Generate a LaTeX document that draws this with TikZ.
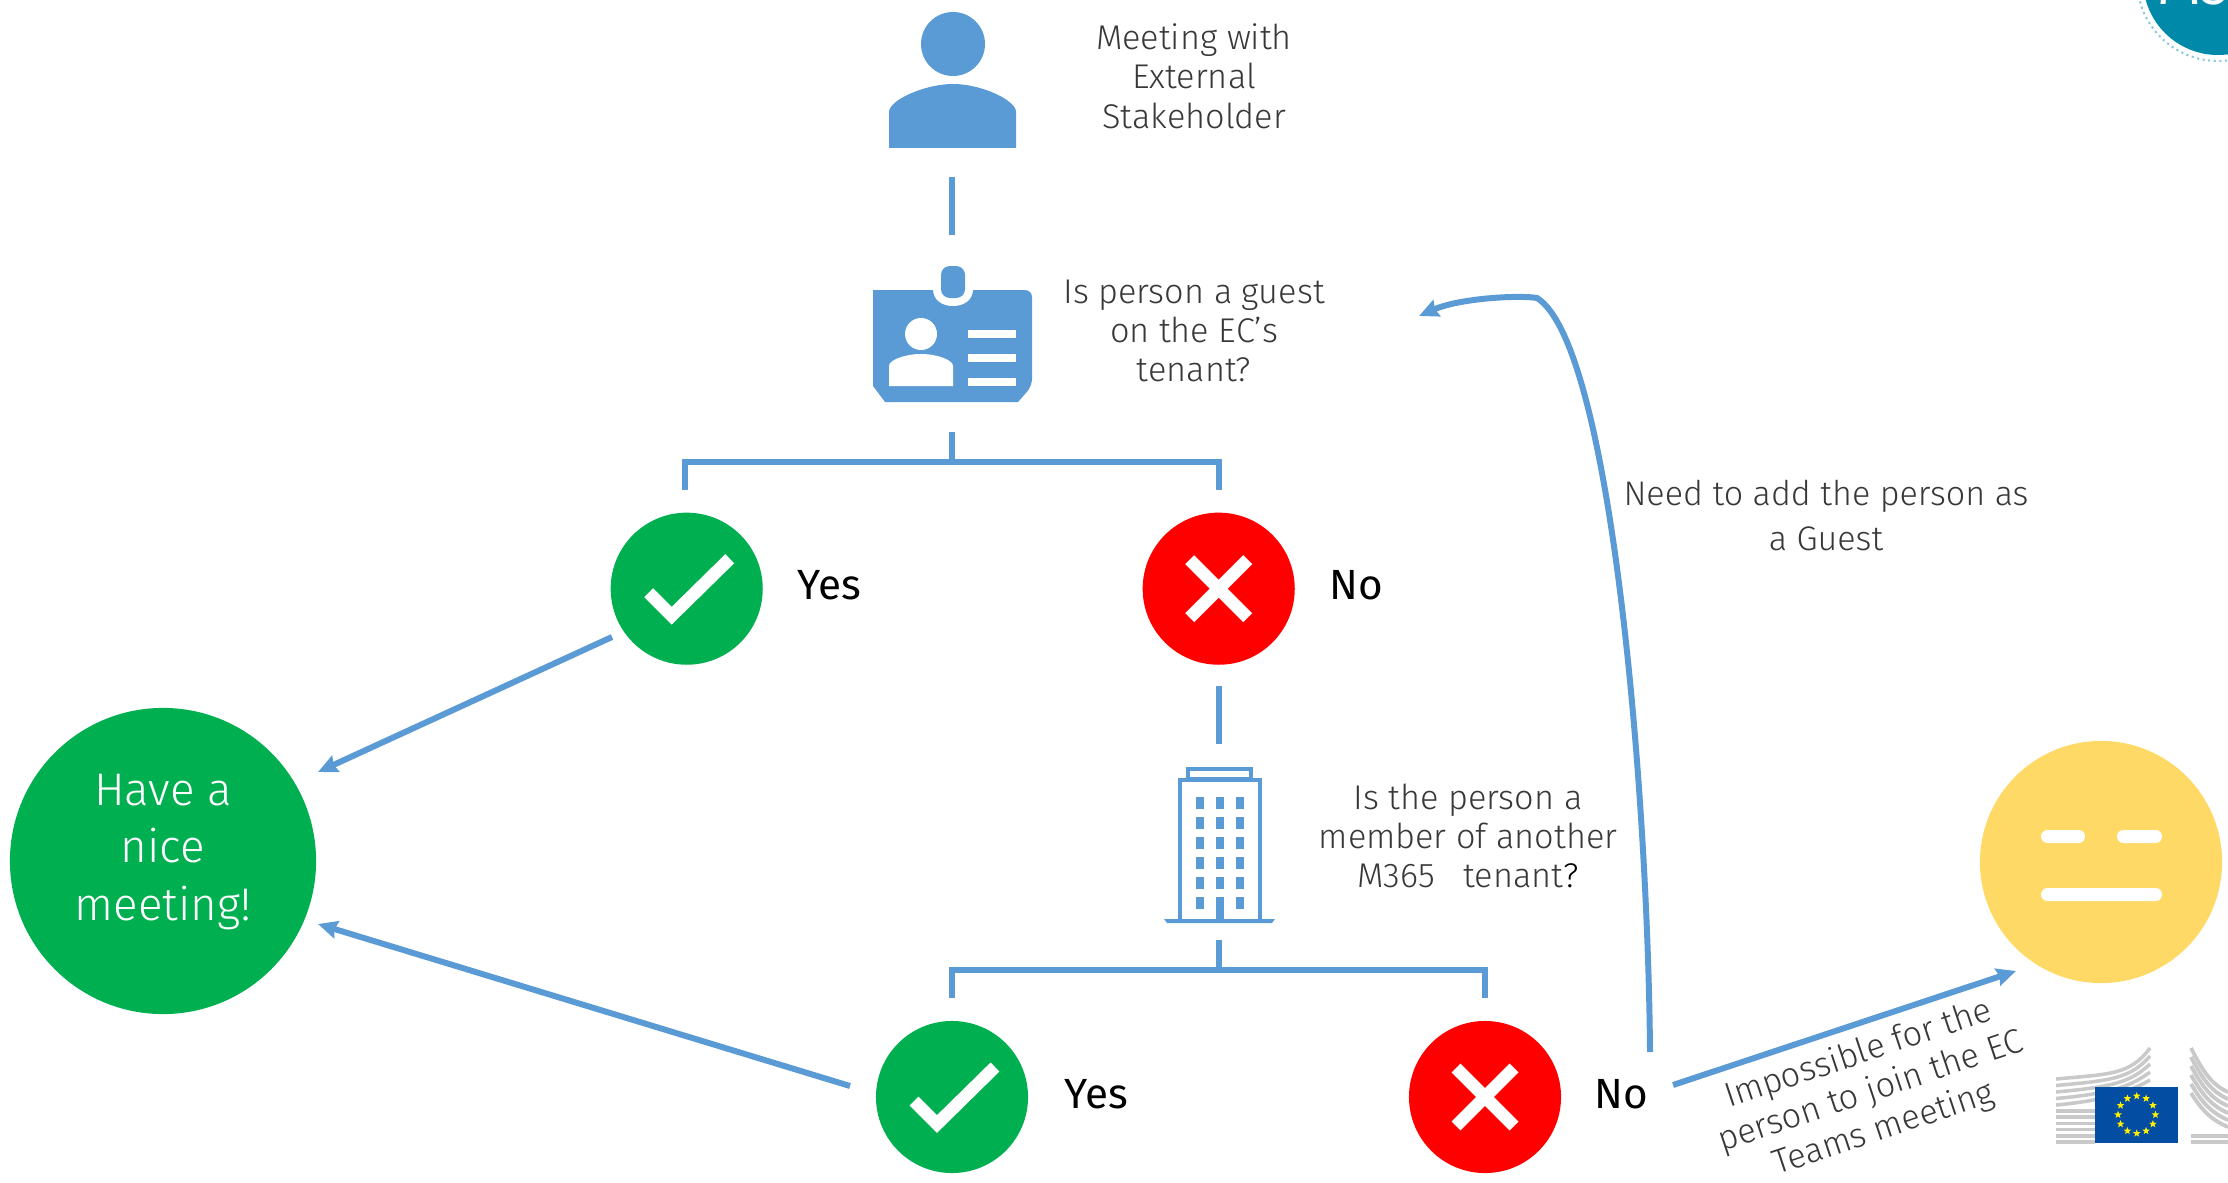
\documentclass[tikz,border=0pt]{standalone}
\usepackage{fontspec}
\usepackage{xcolor}
\usetikzlibrary{shapes.geometric,arrows.meta}
\setmainfont{Fira Sans}
\newfontfamily\thinfont{Fira Sans Light}
\definecolor{iconblue}{HTML}{5B9BD5}
\definecolor{textgrey}{HTML}{383838}
\definecolor{okgreen}{HTML}{00B050}
\definecolor{nored}{HTML}{FF0000}
\definecolor{faceyellow}{HTML}{FFD966}
\definecolor{tealblue}{HTML}{0089A8}
\definecolor{flagblue}{HTML}{034EA2}
\definecolor{logogrey}{HTML}{C9C9C9}
\tikzset{
  caption/.style={text=textgrey,align=center,font=\thinfont\fontsize{9.75}{11.2}\selectfont},
  answer/.style={text=black,font=\fontsize{12}{14}\selectfont},
  yesnode/.style={circle,fill=okgreen,minimum size=1.52cm,inner sep=0pt},
  nonode/.style={circle,fill=nored,minimum size=1.52cm,inner sep=0pt},
  link/.style={draw=iconblue,line width=1.7pt},
  flow/.style={draw=iconblue,line width=1.7pt,->},
  tickline/.style={draw=white,line width=3.6pt}
}
\begin{document}
\begin{tikzpicture}[x=0.01cm,y=-0.01cm,>={Stealth[length=5.5pt,width=5pt,inset=0.6pt]}]
          \useasboundingbox (0,0) rectangle (2228,1182);
          \fill[white] (0,0) rectangle (2228,1182);

          \fill[tealblue] (2218,-20) circle [radius=75];
          \draw[tealblue!45,densely dotted,line width=0.6pt] (2218,-20) circle [radius=81];
          \node[anchor=base west,inner sep=0pt,text=white,font=\fontsize{16}{18}\selectfont] (badge) at (2157,5) {M365};

          \fill[iconblue] (953,44) circle [radius=32];
          \fill[iconblue] (889,148) -- (889,112) .. controls (889,100) and (925,84) .. (953,84) .. controls (981,84) and (1016,100) .. (1016,112) -- (1016,148) -- cycle;
          \node[caption] (meeting) at (1194,76) {Meeting with\\External\\Stakeholder};

          \coordinate (persona) at (952,177);
          \coordinate (personb) at (952,235);
          \draw[link] (persona)--(personb);

          \fill[iconblue,rounded corners=2pt] (873,290) -- (1032,290) -- (1032,386) [sharp corners] -- (1018,402) -- (885,402) -- (873,386) -- cycle;
          \fill[white] (933,289) .. controls (933,300) and (942,306) .. (953,306) .. controls (964,306) and (973,300) .. (973,289) -- cycle;
          \fill[iconblue,rounded corners=2.5pt] (941,266) rectangle (965,298);
          \fill[white] (921,334) circle [radius=16];
          \fill[white] (889,386) -- (889,366) .. controls (889,360) and (905,354) .. (921,354) .. controls (937,354) and (953,360) .. (953,366) -- (953,386) -- cycle;
          \foreach \y in {330,354,378}
            \fill[white] (968,\y) rectangle (1016,\y+8);
          \node[caption] (guest) at (1194,331) {Is person a guest\\on the EC’s\\tenant?};

          \coordinate (topstem) at (952,432);
          \coordinate (topjoin) at (952,462);
          \coordinate (topyes) at (685,490);
          \coordinate (topno) at (1219,490);
          \draw[link] (topstem)--(topjoin);
          \draw[link] (topyes)|-(topjoin)-|(topno);

          \foreach \n/\x/\y in {a/686.7/588.7,b/952/1097}{
            \node[yesnode] (yes\n) at (\x,\y) {};
            \draw[tickline] (\x-38,\y+4)--(\x-15,\y+27)--(\x+43,\y-30);
          }
          \foreach \n/\x/\y in {a/1218.7/588.7,b/1485/1097}{
            \node[nonode] (no\n) at (\x,\y) {};
            \draw[tickline] (\x-29,\y-29)--(\x+29,\y+29);
            \draw[tickline] (\x-29,\y+29)--(\x+29,\y-29);
          }
          \node[answer] (yesatext) at (829,585) {Yes};
          \node[answer] (noatext) at (1356,585) {No};
          \node[answer] (yesbtext) at (1096,1094) {Yes};
          \node[answer] (nobtext) at (1621,1094) {No};

          \coordinate (nodown) at (1218.5,686);
          \coordinate (buildtop) at (1218.5,744);
          \draw[link] (nodown)--(buildtop);

          \draw[iconblue,line width=1pt] (1188,779) rectangle (1251,769);
          \draw[iconblue,line width=1pt,fill=white] (1180,920) -- (1180,780) -- (1260,780) -- (1260,920);
          \fill[iconblue] (1164,919) -- (1275,919) -- (1272,923) -- (1167,923) -- cycle;
          \foreach \x in {1196,1216,1236}
            \foreach \y in {797,817,837,857,877,897}
              \fill[iconblue] (\x,\y) rectangle (\x+8,\y+12);
          \fill[iconblue] (1216,897) rectangle (1224,920);
          \node[caption] (member) at (1468,836) {Is the person a\\member of another\\M365~~~tenant\textcolor{black}{?}};

          \coordinate (lowstem) at (1219,940);
          \coordinate (lowjoin) at (1219,970);
          \coordinate (lowyes) at (952,998);
          \coordinate (lowno) at (1485,998);
          \draw[link] (lowstem)--(lowjoin);
          \draw[link] (lowyes)|-(lowjoin)-|(lowno);

          \node[circle,fill=okgreen,minimum size=3.06cm,inner sep=0pt] (have) at (163,861) {};
          \node[text=white,align=center,font=\thinfont\fontsize{13}{16.3}\selectfont] (havetext) at (163,852) {Have a\\nice\\meeting!};
          \node[circle,fill=faceyellow,minimum size=2.42cm,inner sep=0pt] (face) at (2101,862) {};
          \fill[white,rounded corners=1.8pt] (2041,830) rectangle (2085,843);
          \fill[white,rounded corners=1.8pt] (2117,830) rectangle (2162,843);
          \fill[white,rounded corners=1.8pt] (2041,888) rectangle (2162,901);

          \coordinate (yesastart) at (612,637);
          \coordinate (haveup) at (318,772);
          \coordinate (yesbstart) at (850,1086);
          \coordinate (havelow) at (318,924);
          \draw[flow] (yesastart)--(haveup);
          \draw[flow] (yesbstart)--(havelow);

          \coordinate (backstart) at (1650,1052);
          \coordinate (backbend) at (1537,298);
          \coordinate (backend) at (1419,316);
          \draw[flow] (backstart) .. controls (1648,800) and (1612,345) .. (backbend) .. controls (1520,295) and (1460,298) .. (backend);
          \node[text=textgrey,align=center,font=\thinfont\fontsize{9.7}{12.8}\selectfont] (addguest) at (1826,516) {Need to add the person as\\a Guest};

          \coordinate (nostart) at (1673,1085);
          \coordinate (faceend) at (2016,971);
          \draw[flow] (nostart)--(faceend);
          \node[caption,rotate=18.5] (impossible) at (1871,1092) {Impossible for the\\person to join the EC\\Teams meeting};

          \foreach \i in {0,1,2,3,4}
            \draw[logogrey,line width=1pt] (2056,1079+\i*6.5) .. controls (2110,1074+\i*6.5) and (2130,1075+\i*4) .. (2150,1048+\i*8);
          \foreach \i in {5,6,7,8,9,10}
            \draw[logogrey,line width=1pt] (2056,1080+\i*6.2) -- (2095,1080+\i*6.2);
          \foreach \i in {0,1,2,3,4,5}
            \draw[logogrey,line width=1.1pt] (2191,1048+\i*9) .. controls (2203,1072+\i*8) and (2212,1085+\i*7) .. (2228,1092+\i*7);
          \foreach \y in {1136,1142}
            \draw[logogrey,line width=1.1pt] (2191,\y) -- (2228,\y);
          \fill[flagblue] (2095,1087) rectangle (2178,1143);
          \foreach \a in {0,30,...,330}
            \node[star,star points=5,star point ratio=2.4,fill=yellow,minimum size=0.08cm,inner sep=0pt] at ([shift={(\a:18.7)}]2136.7,1114.7) {};
        \end{tikzpicture}
\end{document}
